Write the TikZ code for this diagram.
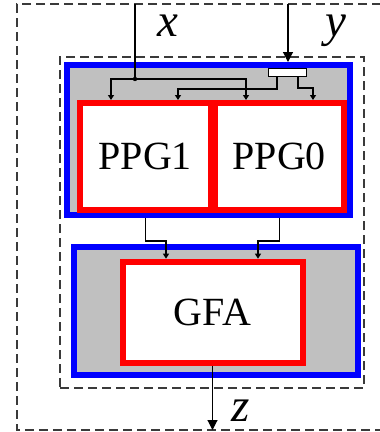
\documentclass[tikz,border=0pt]{standalone}
\usepackage{fontspec}
\setmainfont{Liberation Serif}
\usetikzlibrary{arrows.meta}
\definecolor{fillgray}{HTML}{C0C0C0}
\definecolor{dashgray}{HTML}{3A3A3A}
\tikzset{
  dashbox/.style={draw=dashgray, line width=1.2pt, dash pattern=on 9pt off 5pt, inner sep=0pt},
  stagebox/.style={draw=blue, fill=fillgray, line width=6pt, inner sep=0pt},
  unitbox/.style={draw=red, fill=white, line width=6pt, inner sep=0pt, font=\fontsize{40}{41}\selectfont},
  splitbox/.style={draw=black, fill=white, line width=0.8pt, inner sep=0pt, minimum width=38pt, minimum height=8pt},
  wire/.style={draw=black, line width=1.1pt},
  arr/.style={wire, -{Triangle[width=6pt,length=5pt]}},
  bigarr/.style={wire, -{Triangle[width=10pt,length=10pt]}},
  varlabel/.style={anchor=base, inner sep=0pt, font=\fontsize{47}{48}\selectfont\itshape}
}
\begin{document}
\begin{tikzpicture}[x=1pt,y=-1pt]
\useasboundingbox (0,0) rectangle (380,432);
% outer dashed frame (open on the right, runs off the picture)
\draw[dashbox] (395,4) -- (17,4) -- (17,430) -- (395,430);
% inner dashed frame
\node[dashbox, minimum width=304pt, minimum height=331pt] (inner) at (212,222.5) {};
% stage 1
\node[stagebox, minimum width=282.5pt, minimum height=150pt] (stage1) at (208.25,140) {};
\node[unitbox, minimum width=130.5pt, minimum height=106.5pt] (PPG1) at (145.25,156.25) {PPG1};
\node[unitbox, minimum width=129.5pt, minimum height=106.5pt] (PPG0) at (279.25,156.25) {PPG0};
\node[splitbox] (split) at (287,72) {};
% stage 2
\node[stagebox, minimum width=284.6pt, minimum height=127.5pt] (stage2) at (216,310.75) {};
\node[unitbox, minimum width=180pt, minimum height=101.6pt] (GFA) at (212.5,312.5) {GFA};
% x input
\coordinate (xin) at (135,4);
\coordinate (xj) at (135,79);
\coordinate (xl) at (111,79);
\coordinate (xr) at (246,79);
\draw[wire] (xin) -- (xj);
\fill (xj) circle (2.2pt);
\draw[arr] (xj) -- (xl) -- (xl |- PPG1.north);
\draw[arr] (xj) -- (xr) -- (xr |- PPG0.north);
% y input
\coordinate (yin) at (288,4);
\draw[bigarr] (yin) -- (yin |- stage1.north);
\coordinate (sl) at (277,89);
\coordinate (sl2) at (178,89);
\coordinate (sr) at (298,88);
\coordinate (sr2) at (313,88);
\draw[arr] (sl |- split.south) -- (sl) -- (sl2) -- (sl2 |- PPG1.north);
\draw[arr] (sr |- split.south) -- (sr) -- (sr2) -- (sr2 |- PPG0.north);
% stage 1 -> stage 2
\coordinate (b1) at (166,241);
\coordinate (b0) at (258,241);
\draw[arr] (PPG1.south |- stage1.south) |- (b1) -- (b1 |- GFA.north);
\draw[arr] (PPG0.south |- stage1.south) |- (b0) -- (b0 |- GFA.north);
% output
\coordinate (zout) at (212.5,430);
\draw[bigarr] (GFA.south) -- (zout);
% labels
\node[varlabel] (xlab) at (168,36) {x};
\node[varlabel] (ylab) at (336,36) {y};
\node[varlabel] (zlab) at (241,421.7) {z};
\end{tikzpicture}
\end{document}
